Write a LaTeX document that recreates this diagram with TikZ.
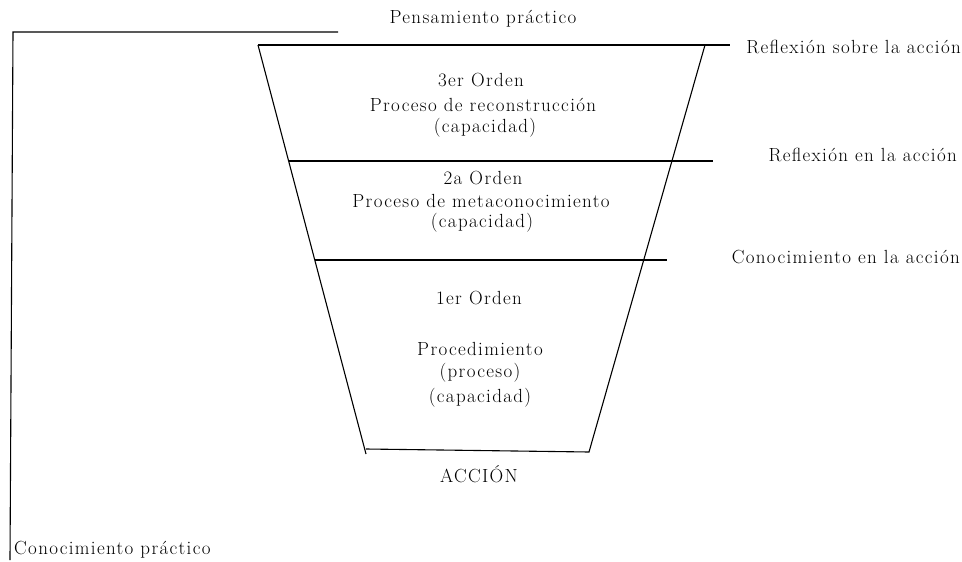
\documentclass[tikz,border=0pt]{standalone}
\usepackage{fontspec}
\setmainfont{Latin Modern Roman}[LetterSpace=7.0]
\tikzset{
  ln/.style={line width=1.1pt, black},
  lbl/.style={font=\fontsize{19}{22}\selectfont, inner sep=0pt, anchor=center},
  lble/.style={font=\fontsize{19}{22}\selectfont, inner sep=0pt, anchor=east},
  lblw/.style={font=\fontsize{19}{22}\selectfont, inner sep=0pt, anchor=west}
}
\begin{document}
\begin{tikzpicture}[x=1pt,y=-1pt]
\useasboundingbox (0,0) rectangle (962,562);
% bracket
\coordinate (bA) at (338,32);
\coordinate (bB) at (13,32);
\coordinate (bC) at (10,560);
\draw[ln] (bA) -- (bB) -- (bC);
% trapezoid
\coordinate (tl) at (258,45);
\coordinate (tr) at (705,45);
\coordinate (tre) at (730,45);
\coordinate (bl) at (366,454);
\coordinate (bl2) at (366,449);
\coordinate (br) at (589,452);
\draw[ln] (tl) -- (tre);
\draw[ln] (tl) -- (bl);
\draw[ln] (bl2) -- (br) -- (tr);
\coordinate (m1l) at (289,161);
\coordinate (m1r) at (713,161);
\coordinate (m2l) at (315,260);
\coordinate (m2r) at (667,260);
\draw[ln] (m1l) -- (m1r);
\draw[ln] (m2l) -- (m2r);
% outer texts
\node[lbl] (pens) at (483,19) {Pensamiento práctico};
\node[lble] (rsa) at (961,47) {Reflexión sobre la acción};
\node[lble] (rea) at (957,155) {Reflexión en la acción};
\node[lble] (cea) at (960,257) {Conocimiento en la acción};
\node[lblw] (cp) at (14,550) {Conocimiento práctico};
% third order
\node[lbl] (o3a) at (481,80) {3er Orden};
\node[lbl] (o3b) at (483,105) {Proceso de reconstrucción};
\node[lbl] (o3c) at (485,128) {(capacidad)};
% second order
\node[lbl] (o2a) at (483,178) {2a Orden};
\node[lbl] (o2b) at (481,201) {Proceso de metaconocimiento};
\node[lbl] (o2c) at (482,223) {(capacidad)};
% first order
\node[lbl] (o1a) at (479,298) {1er Orden};
\node[lbl] (o1b) at (480,349) {Procedimiento};
\node[lbl] (o1c) at (480,373) {(proceso)};
\node[lbl] (o1d) at (480,398) {(capacidad)};
\node[lbl] (acc) at (479,474) {ACCIÓN};
\end{tikzpicture}
\end{document}
